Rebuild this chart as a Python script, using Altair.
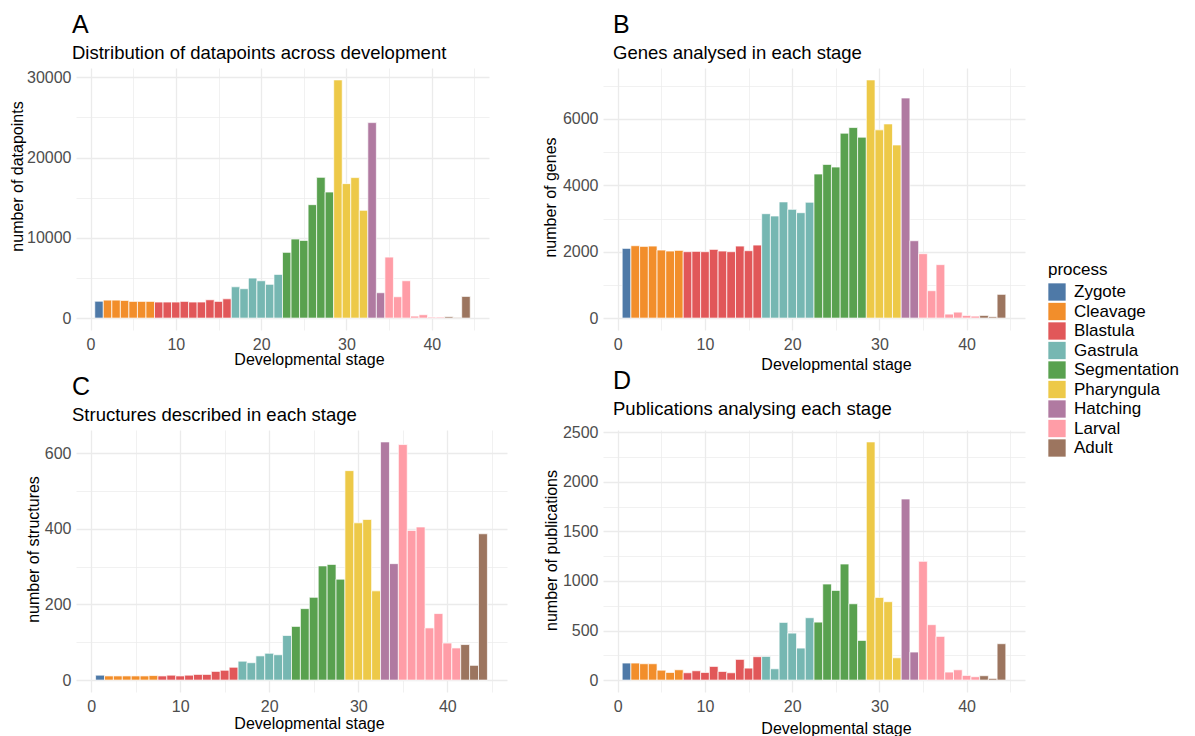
import altair as alt
import pandas as pd

# ---------------- data ----------------
stages = list(range(1, 45))

process_names = ["Zygote", "Cleavage", "Blastula", "Gastrula", "Segmentation",
                 "Pharyngula", "Hatching", "Larval", "Adult"]
process_stage_counts = [1, 6, 9, 6, 6, 4, 2, 7, 3]
process_colors = ["#4e79a7", "#f28e2b", "#e15759", "#76b7b2", "#59a14f",
                  "#edc948", "#b07aa1", "#ff9da7", "#9c755f"]

datapoints = [2100, 2240, 2240, 2200, 2080, 2080, 2080, 2000, 2000, 2000,
              2080, 2000, 2000, 2280, 2080, 2400, 3900, 3660, 4990, 4650,
              4200, 5440, 8190, 9850, 9680, 14130, 17530, 15700, 29670, 16750,
              17500, 13420, 24350, 3160, 7600, 2660, 4650, 250, 420, 120,
              120, 170, 80, 2700]

genes = [2100, 2180, 2160, 2170, 2050, 2020, 2040, 2000, 2010, 2000,
         2070, 2020, 2000, 2170, 2030, 2200, 3145, 3075, 3500, 3275,
         3175, 3490, 4340, 4630, 4550, 5570, 5740, 5450, 7175, 5670,
         5850, 5215, 6630, 2330, 1940, 825, 1610, 120, 180, 80,
         60, 80, 40, 715]

structures = [13, 11, 11, 11, 11, 11, 12, 11, 13, 11,
              13, 15, 15, 23, 26, 34, 50, 46, 64, 71,
              67, 118, 142, 189, 219, 302, 306, 267, 554, 416,
              425, 236, 630, 308, 623, 396, 405, 138, 176, 98,
              85, 94, 39, 387]

publications = [172, 172, 165, 165, 100, 77, 104, 74, 94, 77,
                138, 87, 74, 209, 121, 236, 239, 114, 582, 474,
                323, 629, 585, 969, 905, 1171, 770, 400, 2403, 834,
                791, 225, 1827, 283, 1198, 559, 441, 81, 104, 47,
                34, 44, 17, 367]

stage_process = [p for p, n in zip(process_names, process_stage_counts) for _ in range(n)]

FONT = "Liberation Sans"
PANEL_H = 262


def panel(values, ytitle, letter, subtitle, width, yminor, ymajor,
          ytitle_x, ytitle_y, xtitle_y, dx):
    df = pd.DataFrame({"stage": stages, "process": stage_process, "value": values})
    vmax = max(values)
    ydom = [-0.05 * vmax, 1.05 * vmax]
    yvals = list(range(0, int(ydom[1]) + 1, yminor))
    grid_w = {"condition": {"test": f"datum.value % {ymajor} === 0", "value": 1.3}, "value": 0.7}
    xgrid_w = {"condition": {"test": "datum.value % 10 === 0", "value": 1.3}, "value": 0.7}
    chart = alt.Chart(df).transform_calculate(
        x0="datum.stage - 0.5", x1="datum.stage + 0.5"
    ).mark_bar(stroke="white", strokeWidth=0.7).encode(
        x=alt.X("x0:Q",
                scale=alt.Scale(domain=[-1.7, 46.7], nice=False, zero=False),
                axis=alt.Axis(values=list(range(0, 46, 5)),
                              labelExpr="datum.value % 10 === 0 ? datum.label : ''",
                              labelPadding=6,
                              title="Developmental stage",
                              titleX=233, titleY=xtitle_y,
                              titleBaseline="alphabetic", titleAlign="center",
                              gridWidth=xgrid_w)),
        x2="x1:Q",
        y=alt.Y("value:Q",
                scale=alt.Scale(domain=ydom, nice=False, zero=False),
                axis=alt.Axis(values=yvals, format="d",
                              labelExpr=f"datum.value % {ymajor} === 0 ? datum.label : ''",
                              labelPadding=5,
                              title=ytitle, titleX=ytitle_x, titleY=ytitle_y,
                              titleAngle=270, titleBaseline="middle", titleAlign="center",
                              gridWidth=grid_w)),
        y2=alt.datum(0),
        color=alt.Color("process:N",
                        scale=alt.Scale(domain=process_names, range=process_colors),
                        legend=alt.Legend(title="process", orient="none",
                                          legendX=972, legendY=194)),
    ).properties(
        width=width, height=PANEL_H,
        title=alt.Title(letter, subtitle=subtitle, anchor="start", frame="group", dx=dx),
    )
    return chart


pA = panel(datapoints, "number of datapoints", "A", "Distribution of datapoints across development",
           413, 5000, 10000, -58.5, 108, 34, -4)
pB = panel(genes, "number of genes", "B", "Genes analysed in each stage",
           422, 1000, 2000, -52.5, 129, 39, 10)
pC = panel(structures, "number of structures", "C", "Structures described in each stage",
           431, 100, 200, -42.5, 119, 36, -4)
pD = panel(publications, "number of publications", "D", "Publications analysing each stage",
           422, 250, 500, -51.5, 120, 41, 10)

chart = alt.concat(
    pA, pB, pC, pD, columns=2,
    spacing={"row": 100, "column": 96}, bounds="flush",
).properties(
    autosize=alt.AutoSizeParams(type="none"),
    padding={"left": 76, "top": 68, "right": 1195 - 76, "bottom": 736 - 68},
).configure(
    font=FONT,
).configure_view(
    stroke=None,
).configure_axis(
    domain=False, ticks=False, gridColor="#ebebeb",
    labelColor="#4d4d4d", labelFontSize=16, labelPadding=6,
    titleColor="black", titleFontSize=16, titleFontWeight="normal",
).configure_title(
    fontSize=25, fontWeight="normal", color="black",
    subtitleFontSize=18.5, subtitleColor="black", subtitlePadding=6,
    offset=5.5, anchor="start", frame="group",
).configure_legend(
    titleFontSize=17, titleFontWeight="normal", titleColor="black",
    labelFontSize=17, labelColor="black", symbolType="square",
    symbolSize=300, symbolStrokeWidth=0, symbolOpacity=1,
    rowPadding=1.5, labelOffset=8, titlePadding=4,
)

chart.save("out.html", embed_options={"renderer": "svg", "actions": False})
